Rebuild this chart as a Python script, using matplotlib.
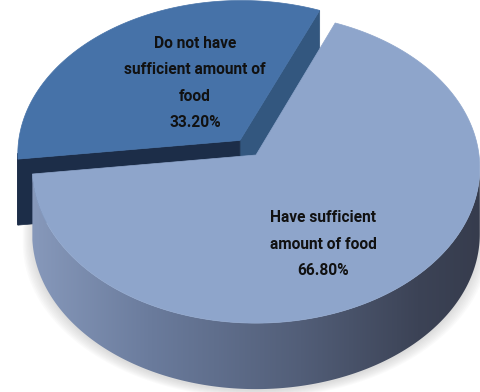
import numpy as np
import matplotlib
matplotlib.use('Agg')
from matplotlib import pyplot as plt
from matplotlib.patches import Polygon
from matplotlib.colors import LinearSegmentedColormap

# data
labels = ['Have sufficient\namount of food', 'Do not have\nsufficient amount of\nfood']
values = [66.80, 33.20]
explode = [0.0, 0.12]
top_colors = ['#8ea5cb', '#4672a8']
cut_colors = ['#5a6a88', '#33577f']
front_colors = ['#2a3550', '#1c2d48']
label_pos = [(323, 244), (195, 83)]

# fake 3d pie with a bit of perspective (pixels)
CX, VY = 256, 155      # where the pie centre lands
KX, KY = 223, 154
P = 0.084              # perspective strength
DEPTH = 66
START = 67.5           # boundary between the two slices, degrees


def proj(gx, gy, z=0.0):
    w = 1 + P * gy
    return np.column_stack([CX + KX * gx / w, VY - KY * gy / w + z])


def rim(t, ox, oy, z=0.0):
    t = np.radians(np.atleast_1d(t))
    return proj(np.cos(t) + ox, np.sin(t) + oy, z)


fig = plt.figure(figsize=(4.8, 3.92), dpi=100)
ax = fig.add_axes([0, 0, 1, 1])

spans = [v / sum(values) * 360 for v in values]
ranges = [(START + spans[1], START + 360), (START, START + spans[1])]

# silhouette of the side
sil_l = 180 + np.degrees(np.arcsin(P))
sil_r = 360 - np.degrees(np.arcsin(P))

zo = 1
# soft shadow under the main slice
tt = np.linspace(sil_l, sil_r, 200)
for k in range(8):
    pts = np.vstack([rim(tt, 0, 0), rim(tt[::-1], 0, 0, DEPTH + 2 + k)])
    pts[:, 0] = CX + (pts[:, 0] - CX) * (1 + 0.006 * k)
    ax.add_patch(Polygon(pts, closed=True, fc='#808080', ec='none', alpha=0.035, zorder=zo))
zo += 1

cmap = LinearSegmentedColormap.from_list(
    'side', [(0, '#8799bb'), (0.27, '#6a7b9c'), (0.6, '#525e78'),
             (0.86, '#3c4356'), (1, '#363c4d')])

for i in [1, 0]:
    t1, t2 = ranges[i]
    mid = np.radians((t1 + t2) / 2)
    ox, oy = explode[i] * np.cos(mid), explode[i] * np.sin(mid)
    c_top = proj(np.array([ox]), np.array([oy]))[0]
    c_bot = c_top + [0, DEPTH]

    # cut faces that look to the front
    for t, nrm, col in [(t1, t1 - 90, cut_colors[i]), (t2, t2 + 90, front_colors[i])]:
        if np.sin(np.radians(nrm)) < 0:
            e_top = rim(t, ox, oy)[0]
            quad = np.array([c_top, e_top, e_top + [0, DEPTH], c_bot])
            ax.add_patch(Polygon(quad, closed=True, fc=col, ec=col, lw=0.5, zorder=zo))
            zo += 1

    # outer curved side, front part only
    for lo, hi in [(sil_l, sil_r), (sil_l + 360, sil_r + 360)]:
        a0, a1 = max(t1, lo), min(t2, hi)
        if a1 <= a0:
            continue
        tt = np.linspace(a0, a1, 200)
        side = np.vstack([rim(tt, ox, oy), rim(tt[::-1], ox, oy, DEPTH)])
        if i == 0:
            patch = Polygon(side, closed=True, fc='none', ec='none', zorder=zo)
            ax.add_patch(patch)
            grad = np.linspace(0, 1, 256).reshape(1, -1)
            im = ax.imshow(grad, cmap=cmap, extent=(30, 482, 400, 150),
                           aspect='auto', zorder=zo)
            im.set_clip_path(patch)
        else:
            ax.add_patch(Polygon(side, closed=True, fc=front_colors[i],
                                 ec=front_colors[i], lw=0.5, zorder=zo))
        zo += 1

    # top face
    tt = np.linspace(t1, t2, 300)
    top = np.vstack([c_top, rim(tt, ox, oy)])
    ax.add_patch(Polygon(top, closed=True, fc=top_colors[i], ec=top_colors[i],
                         lw=0.5, zorder=zo))
    zo += 1

# labels
spacing = 26.5
for i in range(len(values)):
    lines = labels[i].split('\n') + ['%.2f%%' % values[i]]
    x0, y0 = label_pos[i]
    n = len(lines)
    for j, line in enumerate(lines):
        y = y0 + (j - (n - 1) / 2) * spacing
        ax.text(x0, y, line, ha='center', va='center', fontsize=11.2,
                fontweight='bold', family='Roboto', color='#111111', zorder=zo)

ax.set_xlim(0, 480)
ax.set_ylim(392, 0)
ax.axis('off')
fig.savefig('out.png', dpi=100)
